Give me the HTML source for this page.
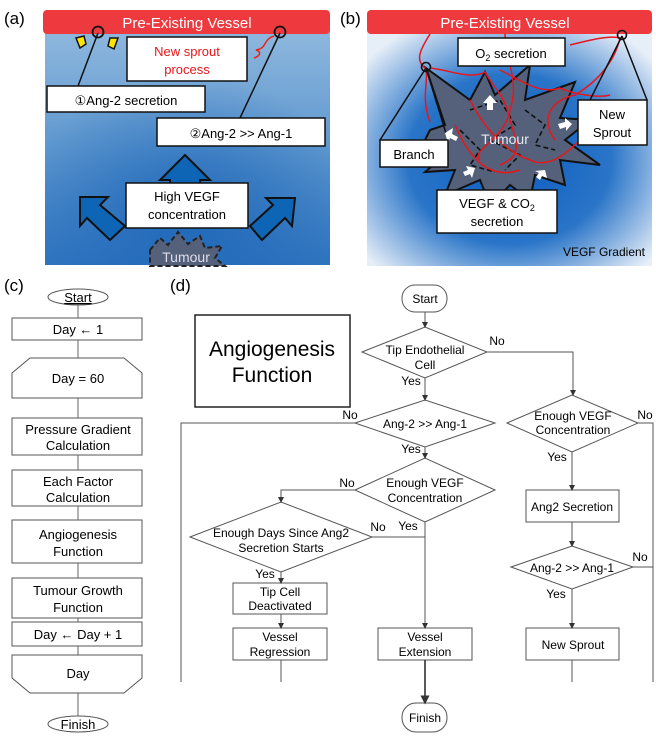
<!DOCTYPE html>
<html><head><meta charset="utf-8"><style>
html,body{margin:0;padding:0;background:#fff;}
svg{display:block;font-family:"Liberation Sans",Arial,sans-serif;}
</style></head><body>
<svg width="656" height="738" viewBox="0 0 656 738" xmlns="http://www.w3.org/2000/svg">
<defs>
<linearGradient id="ga" x1="0" y1="0" x2="0" y2="1">
<stop offset="0" stop-color="#8fb8de"/><stop offset="0.5" stop-color="#5f98cf"/><stop offset="1" stop-color="#2f74bf"/>
</linearGradient>
<radialGradient id="gar" cx="0.5" cy="0.8" r="0.6">
<stop offset="0" stop-color="#1d66b8" stop-opacity="0.9"/><stop offset="1" stop-color="#1d66b8" stop-opacity="0"/>
</radialGradient>
<radialGradient id="gb" cx="0.5" cy="0.55" r="0.65">
<stop offset="0" stop-color="#0a5bbf"/><stop offset="0.55" stop-color="#2a75c8"/><stop offset="1" stop-color="#e6eef8"/>
</radialGradient>
<marker id="ar" markerWidth="6" markerHeight="6" refX="5" refY="3" orient="auto"><path d="M0,0 L6,3 L0,6z" fill="#333"/></marker>
</defs>

<!-- Panel (a) -->
<text x="4" y="24" font-size="17">(a)</text>
<rect x="45" y="28" width="285" height="237" fill="url(#ga)"/>
<rect x="45" y="28" width="285" height="237" fill="url(#gar)"/>
<rect x="43" y="10" width="287" height="24" rx="4" fill="#ee3a3f"/>
<text x="187" y="28" font-size="15" fill="#fff" text-anchor="middle">Pre-Existing Vessel</text>
<polygon points="150,250 160,238 168,245 178,232 188,244 200,236 205,248 222,246 215,258 225,266 150,266" fill="#55617a" stroke="#222" stroke-width="2" stroke-dasharray="5,3"/>
<text x="186" y="262" font-size="14" fill="#dde" text-anchor="middle">Tumour</text>
<polygon points="185,155 210,180 200,180 200,195 170,195 170,180 160,180" fill="#0f65b5" stroke="#111" stroke-width="2"/>
<polygon points="80,197 108,197 100,205 125,226 110,240 87,218 80,226" fill="#0f65b5" stroke="#111" stroke-width="2"/>
<polygon points="295,198 292,226 285,218 262,240 250,226 273,205 266,198" fill="#0f65b5" stroke="#111" stroke-width="2"/>
<polygon points="76,38 84,36 86,44 80,48" fill="#ffe600" stroke="#111" stroke-width="1.5"/>
<polygon points="118,38 110,38 108,46 114,49" fill="#ffe600" stroke="#111" stroke-width="1.5"/>
<line x1="98" y1="33" x2="78" y2="86" stroke="#111" stroke-width="1.5"/>
<line x1="280" y1="33" x2="240" y2="118" stroke="#111" stroke-width="1.5"/>
<circle cx="98" cy="32" r="5.5" fill="none" stroke="#111" stroke-width="1.8"/>
<circle cx="280" cy="32" r="5.5" fill="none" stroke="#111" stroke-width="1.8"/>
<path d="M274,36 C262,40 268,48 256,50 C262,52 260,56 254,58" fill="none" stroke="#e21" stroke-width="1.5"/>
<rect x="127" y="37" width="120" height="44" fill="#fff" stroke="#111" stroke-width="1.5"/>
<text x="187" y="56" font-size="13" fill="#e8161b" text-anchor="middle">New sprout</text>
<text x="187" y="74" font-size="13" fill="#e8161b" text-anchor="middle">process</text>
<rect x="47" y="86" width="158" height="26" fill="#fff" stroke="#111" stroke-width="1.5"/>
<text x="126" y="105" font-size="13" text-anchor="middle">①Ang-2 secretion</text>
<rect x="157" y="118" width="168" height="28" fill="#fff" stroke="#111" stroke-width="1.5"/>
<text x="241" y="138" font-size="13" text-anchor="middle">②Ang-2 &gt;&gt; Ang-1</text>
<rect x="126" y="183" width="122" height="45" fill="#fff" stroke="#111" stroke-width="1.5"/>
<text x="187" y="201" font-size="13" text-anchor="middle">High VEGF</text>
<text x="187" y="219" font-size="13" text-anchor="middle">concentration</text>

<!-- Panel (b) -->
<text x="340" y="24" font-size="17">(b)</text>
<rect x="367" y="28" width="285" height="238" fill="url(#gb)"/>
<rect x="367" y="10" width="285" height="24" rx="4" fill="#ee3a3f"/>
<text x="505" y="28" font-size="15" fill="#fff" text-anchor="middle">Pre-Existing Vessel</text>
<polygon points="426,68 470,100 485,72 495,95 530,65 525,100 575,82 560,118 590,120 565,140 600,165 560,160 565,185 535,175 530,200 510,185 490,205 480,180 445,195 455,170 425,172 445,155 420,150 430,130 445,125" fill="#55617a" stroke="#111" stroke-width="2"/>
<g fill="none" stroke="#111" stroke-width="1.6" stroke-dasharray="5,3">
<path d="M470,110 L500,100 L515,125 L490,140 L520,155 L505,170"/>
<path d="M460,130 L480,150 L470,165 L495,172"/>
<path d="M525,110 L545,125 L535,145 L555,150"/>
</g>
<g fill="none" stroke="#e8161b" stroke-width="1.5">
<path d="M430,34 C420,50 415,60 425,68 C430,80 420,95 430,122"/>
<path d="M430,68 C450,70 470,80 485,72 C495,90 505,95 510,120 C515,140 525,155 500,165"/>
<path d="M505,34 C505,60 520,80 510,110 C505,140 470,150 480,160"/>
<path d="M570,45 C590,40 610,35 620,38 C615,60 600,80 575,95 C550,100 540,120 555,140"/>
<path d="M500,70 C520,80 540,95 560,88 C575,95 600,98 610,95"/>
<path d="M470,100 C480,120 500,150 530,160 C550,170 570,150 580,140"/>
<path d="M455,125 C470,160 490,180 520,170"/>
</g>
<line x1="426" y1="68" x2="380" y2="140" stroke="#111" stroke-width="1.5"/>
<line x1="426" y1="68" x2="448" y2="140" stroke="#111" stroke-width="1.5"/>
<line x1="622" y1="36" x2="590" y2="100" stroke="#111" stroke-width="1.5"/>
<line x1="622" y1="36" x2="647" y2="100" stroke="#111" stroke-width="1.5"/>
<circle cx="426" cy="67" r="4.5" fill="none" stroke="#111" stroke-width="1.6"/>
<circle cx="622" cy="35" r="4.5" fill="none" stroke="#111" stroke-width="1.6"/>
<g fill="#fff"><polygon points="490,95 497,103 493,103 493,110 487,110 487,103 483,103"/>
<polygon points="445,133 453,128 452,134 458,137 456,141 450,138 448,143"/>
<polygon points="572,124 565,118 565,122 558,124 560,129 566,127 566,131"/>
<polygon points="475,168 472,178 470,174 465,176 463,172 468,170 466,166"/>
<polygon points="545,170 547,178 542,176 540,180 536,177 539,173 535,171"/></g>
<text x="505" y="144" font-size="14" fill="#e5e8f0" text-anchor="middle">Tumour</text>
<rect x="458" y="38" width="107" height="28" fill="#fff" stroke="#111" stroke-width="1.5"/>
<text x="511" y="58" font-size="13" text-anchor="middle">O<tspan font-size="9" dy="3">2</tspan><tspan dy="-3"> secretion</tspan></text>
<rect x="578" y="100" width="69" height="45" fill="#fff" stroke="#111" stroke-width="1.5"/>
<text x="612" y="119" font-size="13" text-anchor="middle">New</text>
<text x="612" y="137" font-size="13" text-anchor="middle">Sprout</text>
<rect x="380" y="140" width="68" height="27" fill="#fff" stroke="#111" stroke-width="1.5"/>
<text x="414" y="159" font-size="13" text-anchor="middle">Branch</text>
<rect x="437" y="190" width="120" height="43" fill="#fff" stroke="#111" stroke-width="1.5"/>
<text x="497" y="208" font-size="13" text-anchor="middle">VEGF &amp; CO<tspan font-size="9" dy="3">2</tspan></text>
<text x="497" y="226" font-size="13" text-anchor="middle">secretion</text>
<text x="645" y="256" font-size="12" text-anchor="end">VEGF Gradient</text>

<!-- Panel (c) -->
<text x="4" y="291" font-size="17">(c)</text>
<g stroke="#555" stroke-width="1" fill="#fff">
<ellipse cx="78" cy="297" rx="30" ry="8"/>
<rect x="12" y="318" width="130" height="22"/>
<path d="M30,358 L124,358 L142,373 L142,398 L12,398 L12,373 Z"/>
<rect x="12" y="418" width="130" height="37"/>
<rect x="12" y="470" width="130" height="36"/>
<rect x="12" y="520" width="130" height="43"/>
<rect x="12" y="578" width="130" height="40"/>
<rect x="12" y="622" width="130" height="24"/>
<path d="M12,655 L142,655 L142,678 L124,693 L30,693 L12,678 Z"/>
<ellipse cx="78" cy="724" rx="30" ry="8"/>
</g>
<g stroke="#666" stroke-width="1"><line x1="78" y1="305" x2="78" y2="318"/><line x1="78" y1="340" x2="78" y2="358"/><line x1="78" y1="398" x2="78" y2="418"/><line x1="78" y1="455" x2="78" y2="470"/><line x1="78" y1="506" x2="78" y2="520"/><line x1="78" y1="563" x2="78" y2="578"/><line x1="78" y1="618" x2="78" y2="622"/><line x1="78" y1="646" x2="78" y2="655"/><line x1="78" y1="693" x2="78" y2="716"/></g>
<g font-size="13" text-anchor="middle">
<text x="78" y="302" text-decoration="underline">Start</text>
<text x="78" y="334">Day ← 1</text>
<text x="78" y="383">Day = 60</text>
<text x="78" y="434">Pressure Gradient</text><text x="78" y="450">Calculation</text>
<text x="78" y="486">Each Factor</text><text x="78" y="502">Calculation</text>
<text x="78" y="539">Angiogenesis</text><text x="78" y="556">Function</text>
<text x="78" y="595">Tumour Growth</text><text x="78" y="612">Function</text>
<text x="78" y="639">Day ← Day + 1</text>
<text x="78" y="678">Day</text>
<text x="78" y="729">Finish</text>
</g>

<!-- Panel (d) -->
<text x="170" y="291" font-size="17">(d)</text>
<rect x="195" y="315" width="155" height="92" fill="#fff" stroke="#222" stroke-width="1.5"/>
<text x="272" y="356" font-size="21" text-anchor="middle">Angiogenesis</text>
<text x="272" y="382" font-size="21" text-anchor="middle">Function</text>
<g stroke="#555" stroke-width="1" fill="none">
<rect x="402" y="285" width="45" height="27" rx="13"/>
<rect x="402" y="703" width="45" height="29" rx="14"/>
<polygon points="362,352 425,327 487,352 425,378"/>
<polygon points="355,423 425,400 495,423 425,447"/>
<polygon points="507,423 572,395 638,423 572,452"/>
<polygon points="355,490 425,458 495,490 425,522"/>
<polygon points="190,537 281,502 372,537 281,572"/>
<polygon points="511,567 572,546 633,567 572,589"/>
<rect x="233" y="583" width="94" height="31"/>
<rect x="233" y="628" width="94" height="32"/>
<rect x="378" y="628" width="94" height="32"/>
<rect x="526" y="490" width="93" height="32"/>
<rect x="526" y="628" width="93" height="32"/>
<line x1="425" y1="312" x2="425" y2="327" marker-end="url(#ar)"/>
<line x1="425" y1="378" x2="425" y2="400" marker-end="url(#ar)"/>
<line x1="425" y1="447" x2="425" y2="458" marker-end="url(#ar)"/>
<polyline points="487,352 573,352 573,395" marker-end="url(#ar)"/>
<polyline points="355,423 181,423 181,682"/>
<polyline points="638,423 653,423 653,682"/>
<polyline points="355,490 281,490 281,502" marker-end="url(#ar)"/>
<line x1="425" y1="522" x2="425" y2="628" marker-end="url(#ar)"/>
<line x1="372" y1="537" x2="425" y2="537"/>
<line x1="281" y1="572" x2="281" y2="583" marker-end="url(#ar)"/>
<line x1="281" y1="614" x2="281" y2="628" marker-end="url(#ar)"/>
<line x1="281" y1="660" x2="281" y2="682"/>
<line x1="425" y1="660" x2="425" y2="703" marker-end="url(#ar)" stroke="#222" stroke-width="1.5"/>
<line x1="572" y1="452" x2="572" y2="490" marker-end="url(#ar)"/>
<line x1="572" y1="522" x2="572" y2="546" marker-end="url(#ar)"/>
<line x1="633" y1="567" x2="653" y2="567"/>
<line x1="572" y1="589" x2="572" y2="628" marker-end="url(#ar)"/>
<line x1="572" y1="660" x2="572" y2="682"/>
</g>
<g font-size="12" text-anchor="middle">
<text x="425" y="303">Start</text>
<text x="425" y="722">Finish</text>
<text x="425" y="354">Tip Endothelial</text><text x="425" y="369">Cell</text>
<text x="425" y="428">Ang-2 &gt;&gt; Ang-1</text>
<text x="573" y="420">Enough VEGF</text><text x="573" y="434">Concentration</text>
<text x="425" y="487">Enough VEGF</text><text x="425" y="502">Concentration</text>
<text x="281" y="537">Enough Days Since Ang2</text><text x="281" y="552">Secretion Starts</text>
<text x="280" y="596">Tip Cell</text><text x="280" y="610">Deactivated</text>
<text x="280" y="641">Vessel</text><text x="280" y="656">Regression</text>
<text x="425" y="641">Vessel</text><text x="425" y="656">Extension</text>
<text x="572" y="511">Ang2 Secretion</text>
<text x="572" y="572">Ang-2 &gt;&gt; Ang-1</text>
<text x="573" y="649">New Sprout</text>
<text x="497" y="345">No</text>
<text x="411" y="385">Yes</text>
<text x="350" y="419">No</text>
<text x="645" y="419">No</text>
<text x="411" y="453">Yes</text>
<text x="557" y="461">Yes</text>
<text x="347" y="487">No</text>
<text x="408" y="530">Yes</text>
<text x="378" y="531">No</text>
<text x="265" y="578">Yes</text>
<text x="640" y="561">No</text>
<text x="556" y="598">Yes</text>
</g>
</svg>
</body></html>
